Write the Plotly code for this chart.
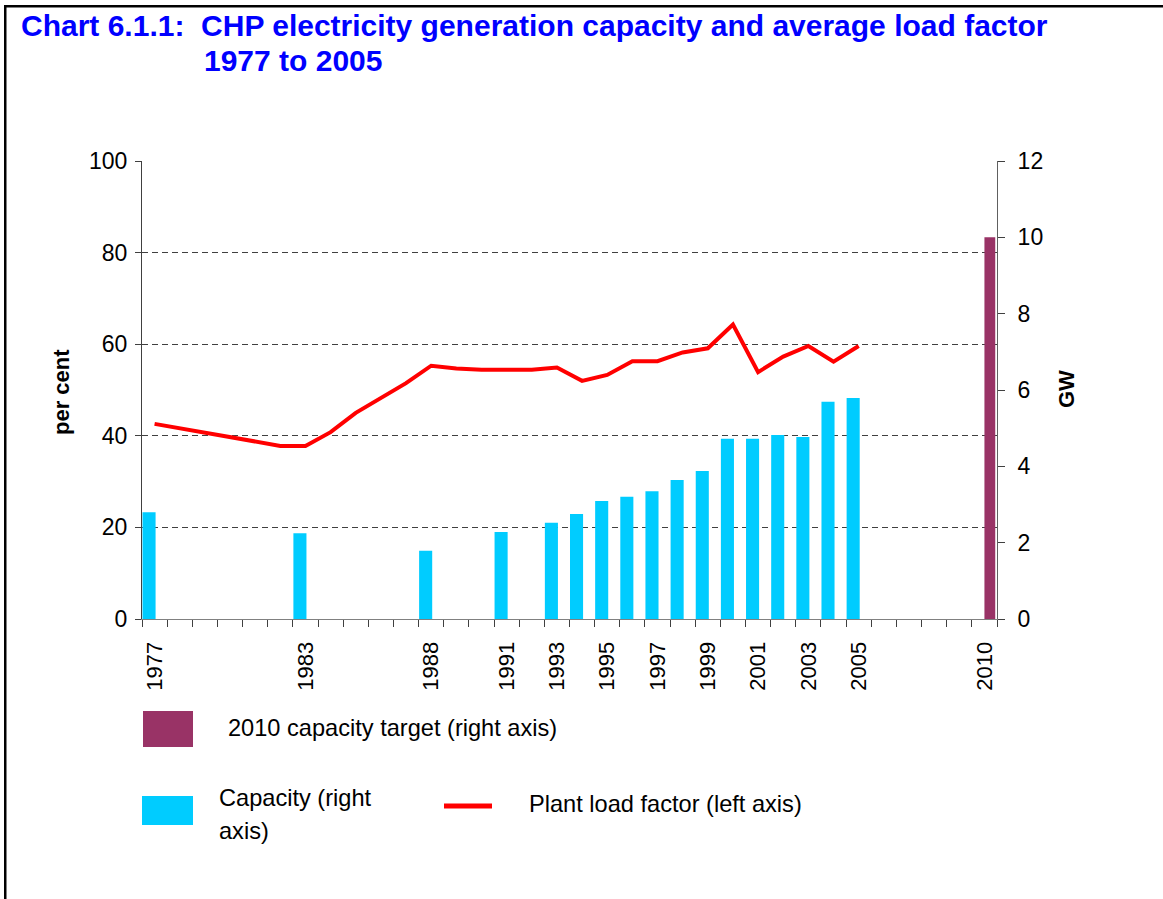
import plotly.graph_objects as go

# ---------------- data ----------------
line_years = list(range(1977, 2006))
load_factor = [42.6, 41.6, 40.6, 39.7, 38.7, 37.8, 37.8, 40.8, 45.0, 48.3,
               51.5, 55.3, 54.7, 54.4, 54.4, 54.4, 54.9, 52.0, 53.3, 56.3,
               56.3, 58.2, 59.1, 64.3, 53.9, 57.3, 59.6, 56.2, 59.6]

cap_years = [1977, 1983, 1988, 1991, 1993, 1994, 1995, 1996, 1997, 1998,
             1999, 2000, 2001, 2002, 2003, 2004, 2005]
capacity_gw = [2.80, 2.25, 1.79, 2.28, 2.52, 2.75, 3.09, 3.20, 3.35, 3.64,
               3.88, 4.72, 4.72, 4.82, 4.77, 5.69, 5.79]

target_years = [2010]
target_gw = [10.0]

label_years = [1977, 1983, 1988, 1991, 1993, 1995, 1997, 1999, 2001, 2003, 2005, 2010]

# ---------------- layout geometry ----------------
W, H = 1163, 899
L, R, T, B = 142, 997, 161, 619

def px2x(px):
    return (px - L) / (R - L)

def px2y(py):
    return (B - py) / (B - T)

FONT = "Arial, 'Liberation Sans', sans-serif"
CYAN = "#00CCFF"
PURPLE = "#993366"
RED = "#FF0000"
BLUE = "#0000FF"

fig = go.Figure()

fig.add_trace(go.Bar(
    x=cap_years, y=capacity_gw, name="Capacity (right axis)",
    marker=dict(color=CYAN, line=dict(width=0)),
    width=0.52, offset=-0.48, yaxis="y", showlegend=False,
))
fig.add_trace(go.Bar(
    x=target_years, y=target_gw, name="2010 capacity target (right axis)",
    marker=dict(color=PURPLE, line=dict(width=0)),
    width=0.43, offset=0.0, yaxis="y", showlegend=False,
))
fig.add_trace(go.Scatter(
    x=line_years, y=load_factor, name="Plant load factor (left axis)",
    mode="lines", line=dict(color=RED, width=4), yaxis="y2", showlegend=False,
))

fig.update_layout(
    width=W, height=H,
    margin=dict(l=L, r=W - R, t=T, b=H - B, pad=0),
    paper_bgcolor="white", plot_bgcolor="white",
    font=dict(family=FONT, color="black", size=22),
    barmode="overlay",
    showlegend=False,
    xaxis=dict(
        range=[1976.5, 2010.5], tickmode="array", tickvals=label_years,
        ticktext=[str(y) for y in label_years], tickangle=-90,
        ticks="", showgrid=False, zeroline=False,
        showline=True, linecolor="#808080", linewidth=1,
        tickfont=dict(size=22), ticklabelstandoff=13,
        minor=dict(tick0=1976.5, dtick=1, ticks="outside", ticklen=7,
                   tickcolor="#404040", showgrid=False),
    ),
    yaxis=dict(
        range=[0, 12], dtick=2, side="right", showgrid=False, zeroline=False,
        showline=True, linecolor="#606060", linewidth=1,
        ticks="outside", ticklen=7, tickcolor="#404040",
        tickfont=dict(size=23), ticklabelstandoff=8,
    ),
    yaxis2=dict(
        range=[0, 100], dtick=20, side="left", overlaying="y",
        showgrid=True, gridcolor="#404040", gridwidth=1, griddash="6px,4px",
        zeroline=False, showline=True, linecolor="#404040", linewidth=1,
        ticks="outside", ticklen=6, tickcolor="#404040",
        tickfont=dict(size=23), ticklabelstandoff=3,
    ),
)

annotations = [
    dict(text="<b>Chart 6.1.1:  CHP electricity generation capacity and average load factor</b>",
         x=px2x(19), y=px2y(25), xanchor="left", yanchor="middle",
         font=dict(size=30, color=BLUE)),
    dict(text="<b>1977 to 2005</b>",
         x=px2x(202), y=px2y(61), xanchor="left", yanchor="middle",
         font=dict(size=30, color=BLUE)),
    dict(text="<b>per cent</b>", x=px2x(61), y=px2y(392), textangle=-90,
         xanchor="center", yanchor="middle", font=dict(size=22)),
    dict(text="<b>GW</b>", x=px2x(1066), y=px2y(389), textangle=-90,
         xanchor="center", yanchor="middle", font=dict(size=22)),
    dict(text="2010 capacity target (right axis)", x=px2x(226), y=px2y(728),
         xanchor="left", yanchor="middle", font=dict(size=23.6)),
    dict(text="Capacity (right", x=px2x(217), y=px2y(798),
         xanchor="left", yanchor="middle", font=dict(size=23.6)),
    dict(text="axis)", x=px2x(217), y=px2y(831),
         xanchor="left", yanchor="middle", font=dict(size=23.6)),
    dict(text="Plant load factor (left axis)", x=px2x(527), y=px2y(804),
         xanchor="left", yanchor="middle", font=dict(size=23.6)),
]
for a in annotations:
    a.update(xref="paper", yref="paper", showarrow=False)
fig.update_layout(annotations=annotations)

shapes = [
    # legend keys
    dict(type="rect", x0=px2x(143), x1=px2x(193), y0=px2y(711), y1=px2y(747),
         fillcolor=PURPLE, line=dict(width=0)),
    dict(type="rect", x0=px2x(142), x1=px2x(193), y0=px2y(796), y1=px2y(825),
         fillcolor=CYAN, line=dict(width=0)),
    dict(type="line", x0=px2x(444), x1=px2x(492), y0=px2y(806), y1=px2y(806),
         line=dict(color=RED, width=5)),
    # outer frame (left and top edges visible)
    dict(type="rect", x0=px2x(4), x1=px2x(1180), y0=px2y(910), y1=px2y(5),
         fillcolor="black", line=dict(width=0), layer="below"),
    dict(type="rect", x0=px2x(6.5), x1=px2x(1180), y0=px2y(910), y1=px2y(7.5),
         fillcolor="white", line=dict(width=0), layer="below"),
]
for s in shapes:
    s.update(xref="paper", yref="paper")
fig.update_layout(shapes=shapes)

fig.write_html("out.html", config={"displayModeBar": False},
               post_script="document.body.style.margin='0';")
